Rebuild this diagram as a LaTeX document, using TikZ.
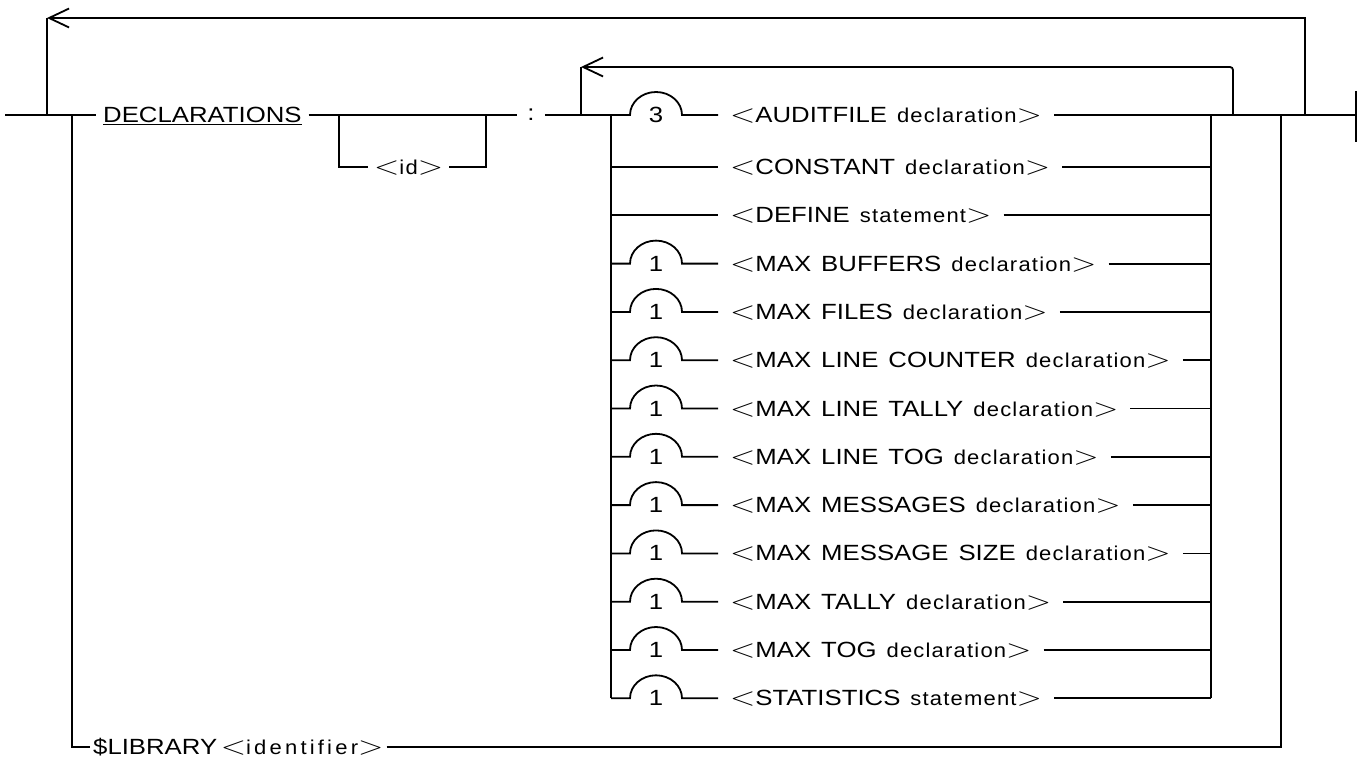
\documentclass[tikz,border=0pt]{standalone}
\usepackage{graphicx}
\usepackage{fontspec}
\newfontfamily\railfont[FakeStretch=1.17,WordSpace=1.4]{Liberation Sans}
\newfontfamily\railsmall[FakeStretch=1.1,LetterSpace=6]{Liberation Sans}
\usetikzlibrary{arrows.meta}
\newcommand\capsz{\railfont\fontsize{22}{22}\selectfont}
\newcommand\lowsz{\railsmall\fontsize{20}{20}\selectfont}
\newcommand\opnb{\scalebox{1.6}[1.25]{$<$}}
\newcommand\clsb{\scalebox{1.6}[1.25]{$>$}}
% <NAME kind>
\newcommand\nterm[2]{{\capsz\opnb#1} {\lowsz#2}{\capsz\clsb}}

\tikzset{
  rail/.style={line width=1.8pt},
  back/.style={rail,-{Straight Barb[length=20pt,width=19pt]}},
  lbl/.style={anchor=west,inner xsep=12pt,inner ysep=0pt,text height=15pt,text depth=0pt,font=\capsz},
  digit/.style={inner sep=0pt,font=\capsz}
}

\begin{document}
\begin{tikzpicture}[x=1pt,y=-1pt]
  \useasboundingbox (0,0) rectangle (1364,759);
  \def\yM{115}\def\yL{747}
  % x of the vertical rails
  \def\xA{611}\def\xB{1211}

  % main line points
  \coordinate (start) at (5,\yM);
  \coordinate (oL) at (47,\yM);   \coordinate (oTop) at (47,18);
  \coordinate (bL) at (72,\yM);
  \coordinate (idL) at (339,\yM); \coordinate (idR) at (486,\yM);
  \coordinate (iL) at (581,\yM);  \coordinate (iTop) at (581,67);
  \coordinate (iR) at (1233,\yM);
  \coordinate (libR) at (1281,\yM);
  \coordinate (oR) at (1305,\yM);
  \coordinate (finish) at (1356,\yM);

  \node[lbl,inner xsep=7pt] (decl) at (96,\yM) {\underline{DECLARATIONS}};
  \node[lbl,inner xsep=6pt] (id) at (368,167) {\opnb{\lowsz id}\clsb};
  \node[digit,inner xsep=10pt] (colon) at (531,\yM) {:};
  \node[lbl,inner xsep=3pt] (lib) at (90,\yL) {\$LIBRARY\,\opnb{\lowsz\addfontfeature{LetterSpace=16}identifier}\clsb};

  % the alternatives
  \foreach \i/\n/\a/\b in {0/3/AUDITFILE/declaration,1/0/CONSTANT/declaration,
      2/0/DEFINE/statement,3/1/MAX BUFFERS/declaration,4/1/MAX FILES/declaration,
      5/1/MAX LINE COUNTER/declaration,6/1/MAX LINE TALLY/declaration,
      7/1/MAX LINE TOG/declaration,8/1/MAX MESSAGES/declaration,
      9/1/MAX MESSAGE SIZE/declaration,10/1/MAX TALLY/declaration,
      11/1/MAX TOG/declaration,12/1/STATISTICS/statement}{
    \pgfmathsetmacro\yy{\i==0 ? \yM : 167+(\i-1)*48.3}
    \coordinate (l\i) at (\xA,\yy);
    \coordinate (r\i) at (\xB,\yy);
    \node[lbl] (t\i) at (718,\yy) {\nterm{\a}{\b}};
    \ifnum\n=0
      \draw[rail] (l\i) -- (t\i.west);
    \else
      \draw[rail] (l\i) -- (630,\yy) arc[start angle=180,end angle=360,x radius=26,y radius=23] -- (t\i.west);
      \node[digit] (n\i) at (656,\yy) {\n};
    \fi
    \ifnum\i>0
      \draw[rail] (t\i.east) -- (r\i);
    \fi
  }

  % main line
  \draw[rail] (start) -- (oL) -- (bL) -- (decl.west);
  \draw[rail] (decl.east) -- (idL) -- (idR) -- (colon.west);
  \draw[rail] (colon.east) -- (iL) -- (l0);
  \draw[rail] (t0.east) -- (r0) -- (iR) -- (libR) -- (oR) -- (finish);
  \draw[rail] ([yshift=24pt]finish) -- ([yshift=-27pt]finish);

  % optional <id>
  \draw[rail] (idL) |- (id.west);
  \draw[rail] (id.east) -| (idR);

  % rails of the alternatives
  \draw[rail] (l0) -- (l12);
  \draw[rail] (r0) -- (r12);

  % loops back
  \draw[back] (oR) |- (oTop);
  \draw[rail] (oTop) -- (oL);
  \draw[back,rounded corners=3pt] (iR) |- (iTop);
  \draw[rail] (iTop) -- (iL);

  % $LIBRARY branch
  \draw[rail] (bL) |- (lib.west);
  \draw[rail] (lib.east) -| (libR);
\end{tikzpicture}
\end{document}
